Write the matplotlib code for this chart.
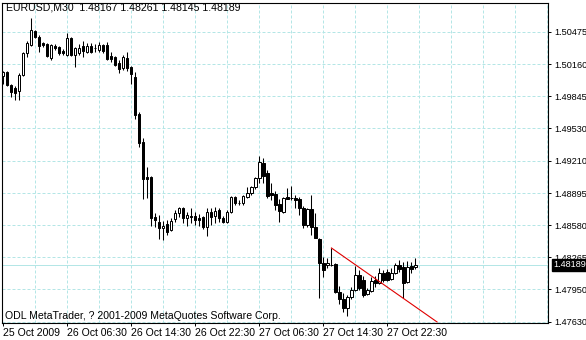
import matplotlib
matplotlib.use('Agg')
import matplotlib.pyplot as plt
import numpy as np

plt.rcParams['font.family'] = ['Liberation Sans', 'DejaVu Sans']
plt.rcParams['font.size'] = 7.6

# EURUSD M30 bars, first bar 25 Oct 2009 22:30
opens = [1.50043, 1.50083, 1.49955, 1.49926, 1.49896, 1.50053, 1.50269, 1.50348, 1.50485, 1.50426,
         1.50367, 1.50357, 1.50220, 1.50338, 1.50328, 1.50289, 1.50249, 1.50416, 1.50249, 1.50269,
         1.50338, 1.50279, 1.50338, 1.50318, 1.50298, 1.50348, 1.50348, 1.50240, 1.50230, 1.50171,
         1.50122, 1.50220, 1.50132, 1.50034, 1.49671, 1.49396, 1.49053, 1.49053, 1.48660, 1.48611,
         1.48552, 1.48592, 1.48533, 1.48641, 1.48699, 1.48749, 1.48650, 1.48670, 1.48670, 1.48650,
         1.48660, 1.48562, 1.48709, 1.48670, 1.48729, 1.48650, 1.48611, 1.48709, 1.48856, 1.48798,
         1.48798, 1.48856, 1.48896, 1.48955, 1.49043, 1.49190, 1.49092, 1.48896, 1.48886, 1.48788,
         1.48709, 1.48856, 1.48847, 1.48847, 1.48837, 1.48749, 1.48582, 1.48739, 1.48562, 1.48444,
         1.48209, 1.48189, 1.48189, 1.48199, 1.47924, 1.47856, 1.47768, 1.47875, 1.47944, 1.48091,
         1.48042, 1.47905, 1.47934, 1.48042, 1.48013, 1.48111, 1.48121, 1.48052, 1.48111, 1.48189,
         1.48170, 1.48023, 1.48180, 1.48167]
highs = [1.50092, 1.50092, 1.49965, 1.49945, 1.50073, 1.50279, 1.50387, 1.50612, 1.50495, 1.50446,
         1.50377, 1.50367, 1.50357, 1.50357, 1.50338, 1.50308, 1.50465, 1.50426, 1.50328, 1.50357,
         1.50387, 1.50367, 1.50367, 1.50357, 1.50377, 1.50357, 1.50377, 1.50279, 1.50240, 1.50200,
         1.50249, 1.50279, 1.50142, 1.50083, 1.49690, 1.49435, 1.49151, 1.49062, 1.48699, 1.48680,
         1.48621, 1.48631, 1.48650, 1.48729, 1.48758, 1.48758, 1.48709, 1.48749, 1.48709, 1.48689,
         1.48670, 1.48749, 1.48749, 1.48758, 1.48749, 1.48670, 1.48729, 1.48866, 1.48866, 1.48827,
         1.48876, 1.48955, 1.48964, 1.49053, 1.49259, 1.49239, 1.49121, 1.48994, 1.48915, 1.48837,
         1.48856, 1.48945, 1.48964, 1.48876, 1.48856, 1.48768, 1.48749, 1.48876, 1.48699, 1.48454,
         1.48268, 1.48258, 1.48356, 1.48209, 1.47983, 1.47915, 1.47895, 1.47974, 1.48180, 1.48140,
         1.48081, 1.47964, 1.48072, 1.48081, 1.48160, 1.48140, 1.48150, 1.48160, 1.48209, 1.48238,
         1.48219, 1.48229, 1.48219, 1.48261]
lows = [1.49965, 1.49945, 1.49837, 1.49808, 1.49808, 1.50043, 1.50230, 1.50338, 1.50416, 1.50279,
        1.50328, 1.50230, 1.50200, 1.50298, 1.50249, 1.50249, 1.50240, 1.50240, 1.50132, 1.50249,
        1.50230, 1.50269, 1.50269, 1.50279, 1.50279, 1.50269, 1.50200, 1.50181, 1.50142, 1.50073,
        1.50102, 1.50092, 1.49965, 1.49622, 1.49347, 1.48837, 1.48847, 1.48572, 1.48562, 1.48444,
        1.48435, 1.48484, 1.48523, 1.48611, 1.48660, 1.48601, 1.48572, 1.48601, 1.48582, 1.48572,
        1.48543, 1.48474, 1.48582, 1.48601, 1.48611, 1.48601, 1.48601, 1.48699, 1.48778, 1.48778,
        1.48778, 1.48847, 1.48876, 1.48935, 1.48994, 1.48994, 1.48847, 1.48827, 1.48729, 1.48611,
        1.48699, 1.48837, 1.48827, 1.48749, 1.48680, 1.48552, 1.48562, 1.48484, 1.48454, 1.47866,
        1.48072, 1.48160, 1.48180, 1.47915, 1.47807, 1.47728, 1.47689, 1.47856, 1.47934, 1.47944,
        1.47875, 1.47895, 1.47924, 1.47974, 1.48003, 1.48023, 1.48032, 1.48042, 1.48101, 1.48121,
        1.47866, 1.48013, 1.48111, 1.48145]
closes = [1.50083, 1.49955, 1.49886, 1.49877, 1.50053, 1.50269, 1.50367, 1.50495, 1.50426, 1.50338,
          1.50348, 1.50240, 1.50348, 1.50318, 1.50269, 1.50269, 1.50416, 1.50249, 1.50318, 1.50318,
          1.50289, 1.50338, 1.50279, 1.50313, 1.50348, 1.50289, 1.50210, 1.50210, 1.50151, 1.50112,
          1.50230, 1.50122, 1.50063, 1.49661, 1.49386, 1.49033, 1.49033, 1.48650, 1.48631, 1.48552,
          1.48572, 1.48513, 1.48621, 1.48699, 1.48749, 1.48650, 1.48680, 1.48660, 1.48631, 1.48631,
          1.48562, 1.48709, 1.48660, 1.48719, 1.48650, 1.48611, 1.48709, 1.48856, 1.48798, 1.48802,
          1.48866, 1.48896, 1.48955, 1.49043, 1.49200, 1.49062, 1.48866, 1.48876, 1.48778, 1.48719,
          1.48847, 1.48840, 1.48844, 1.48827, 1.48749, 1.48582, 1.48739, 1.48562, 1.48454, 1.48209,
          1.48140, 1.48209, 1.48186, 1.47924, 1.47856, 1.47768, 1.47875, 1.47944, 1.48091, 1.47964,
          1.47895, 1.47944, 1.48032, 1.48013, 1.48111, 1.48042, 1.48042, 1.48111, 1.48189, 1.48150,
          1.48013, 1.48170, 1.48150, 1.48189]

x_labels = ['25 Oct 2009', '26 Oct 06:30', '26 Oct 14:30', '26 Oct 22:30',
            '27 Oct 06:30', '27 Oct 14:30', '27 Oct 22:30']
x_label_bars = [0, 16, 32, 48, 64, 80, 96]
y_ticks = [1.47630, 1.47950, 1.48265, 1.48580, 1.48895, 1.49210,
           1.49530, 1.49845, 1.50160, 1.50475]

# red trend line (two anchor points: bar index, price)
trend_bars = [82, 108.4]
trend_prices = [1.48356, 1.47630]

title = 'EURUSD,M30  {:.5f} {:.5f} {:.5f} {:.5f}'.format(opens[-1], highs[-1], lows[-1], closes[-1])
footer = 'ODL MetaTrader, ? 2001-2009 MetaQuotes Software Corp.'

grid_c = '#b4e6e6'

fig = plt.figure(figsize=(5.86, 3.40), dpi=100)
ax = fig.add_axes([2/586, 17/340, 546.3/586, 320.5/340])

ax.set_xlim(-0.33, 136.2)
ax.set_ylim(1.47620, 1.50764)

# grid
for v in y_ticks:
    ax.axhline(v, color=grid_c, lw=0.72, ls=(0, (3, 2)), zorder=1)
for b in range(8, 137, 8):
    ax.axvline(b - 0.15, color=grid_c, lw=0.72, ls=(0, (3, 2)), zorder=1)

# bid line
ax.axhline(closes[-1], color=grid_c, lw=0.72, zorder=1.5)

# candles
idx = np.arange(len(opens))
o, h, l, c = map(np.array, (opens, highs, lows, closes))
up = c >= o
ax.vlines(idx, l, h, color='k', lw=0.75, zorder=3)
body_lo = np.minimum(o, c)
body_h = np.maximum(np.abs(c - o), 0.00001)
ax.bar(idx, body_h, 0.55, bottom=body_lo, color=np.where(up, 'white', 'black'),
       edgecolor='k', lw=0.72, zorder=4)

# trend line
ax.plot(trend_bars, trend_prices, color='#e00000', lw=0.8, zorder=5)

# axes styling
for s in ax.spines.values():
    s.set_linewidth(0.8)
ax.yaxis.tick_right()
ax.set_yticks(y_ticks)
ax.set_yticklabels(['{:.5f}'.format(v) for v in y_ticks], fontsize=6.6)
ax.tick_params(axis='y', length=2, width=0.7, pad=2)
ax.set_xticks([b - 0.15 for b in x_label_bars])
ax.set_xticklabels(x_labels, ha='left')
ax.tick_params(axis='x', length=2.5, width=0.7, pad=1)

fig.text(6/586, 1 - 8/340, title, va='center', ha='left')
fig.text(5/586, 1 - 316/340, footer, va='center', ha='left')

ax.annotate('{:.5f}'.format(closes[-1]), xy=(1.0, closes[-1]),
            xycoords=('axes fraction', 'data'), xytext=(5, 0), textcoords='offset pixels',
            va='center', ha='left', color='white', zorder=10, annotation_clip=False,
            fontsize=6.6,
            bbox=dict(boxstyle='square,pad=0.15', fc='black', ec='black'))

fig.savefig('out.png', dpi=100)
